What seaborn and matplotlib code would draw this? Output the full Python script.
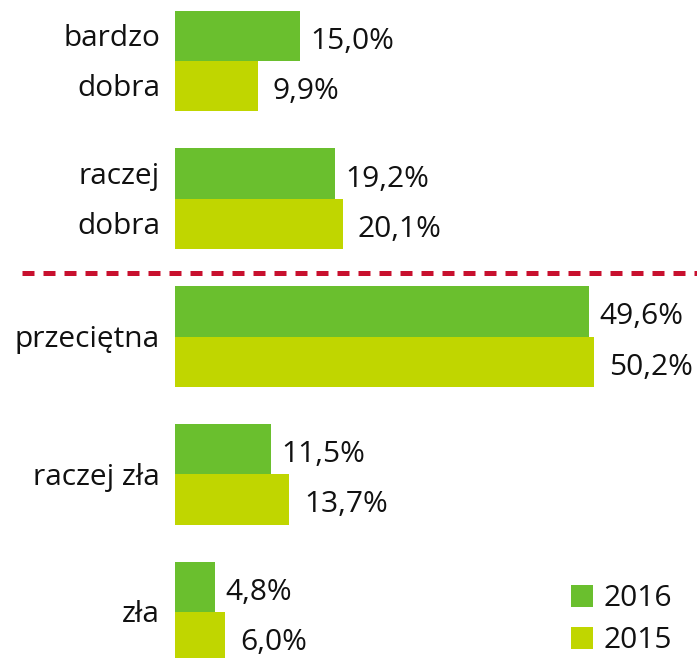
import matplotlib
matplotlib.use("Agg")
import matplotlib.pyplot as plt
import seaborn as sns
import pandas as pd

categories = ["bardzo\ndobra", "raczej\ndobra", "przeciętna", "raczej zła", "zła"]
years = ["2016", "2015"]
values_2016 = [15.0, 19.2, 49.6, 11.5, 4.8]
values_2015 = [9.9, 20.1, 50.2, 13.7, 6.0]
colors = {"2016": "#6abf2e", "2015": "#c0d600"}

df = pd.DataFrame({
    "kategoria": categories * 2,
    "rok": ["2016"] * len(categories) + ["2015"] * len(categories),
    "wartosc": values_2016 + values_2015,
})

sns.set_theme(style="white")
plt.rcParams["font.family"] = ["Open Sans", "DejaVu Sans"]
FS = 21.5

fig = plt.figure(figsize=(6.97, 6.58), dpi=100)
ax = fig.add_axes([175 / 697, 0, 522 / 697, 1])

sns.barplot(data=df, y="kategoria", x="wartosc", hue="rok", hue_order=years,
            order=categories, palette=colors, orient="h", width=0.73, gap=0,
            saturation=1, linewidth=0, ax=ax, legend=True)

ax.set_xlim(0, 522 / 8.35)
ax.set_ylim(4.334, -0.443)
ax.set_xlabel("")
ax.set_ylabel("")
ax.set_xticks([])
ax.set_yticks([])
for s in ax.spines.values():
    s.set_visible(False)

off = 0.73 / 4
for i, cat in enumerate(categories):
    v16, v15 = values_2016[i], values_2015[i]
    ax.text(v16 + 1.2, i - off + 0.04, f"{v16:.1f}".replace(".", ",") + "%",
            va="center", ha="left", fontsize=FS, color="#111111")
    ax.text(v15 + 1.8, i + off + 0.04, f"{v15:.1f}".replace(".", ",") + "%",
            va="center", ha="left", fontsize=FS, color="#111111")
    lines = cat.split("\n")
    if len(lines) == 2:
        ax.text(-1.8, i - off + 0.02, lines[0], ha="right", va="center", fontsize=FS, color="#111111")
        ax.text(-1.8, i + off + 0.02, lines[1], ha="right", va="center", fontsize=FS, color="#111111")
    else:
        ax.text(-1.8, i + 0.02, cat, ha="right", va="center", fontsize=FS, color="#111111")

ax.axhline(1.54, xmin=-0.293, xmax=1.0, color="#c8102e", lw=3.6,
           linestyle=(0, (2.4, 1.8)), clip_on=False)

leg = ax.legend(loc="upper left", bbox_to_anchor=(396 / 522, 1 - 584 / 658),
                frameon=False, fontsize=FS, handlelength=0.75, handleheight=0.75,
                handletextpad=0.35, labelspacing=0.45, borderaxespad=0, borderpad=0)
for t in leg.get_texts():
    t.set_color("#111111")

fig.savefig("out.png", dpi=100)
